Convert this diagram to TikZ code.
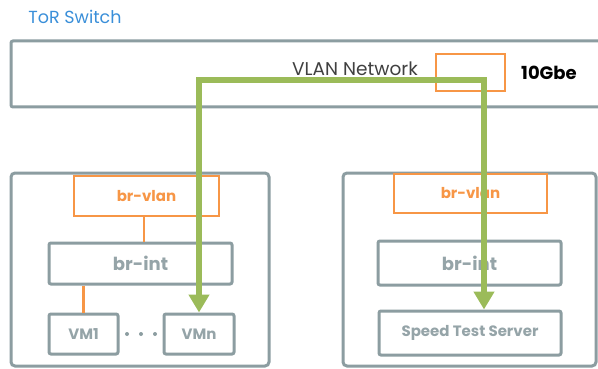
\documentclass[tikz,border=0pt]{standalone}
\usepackage{fontspec}
\setmainfont{Poppins}
\usetikzlibrary{arrows.meta}

\definecolor{boxgray}{HTML}{8C9DA1}
\definecolor{txtgray}{HTML}{95A4A8}
\definecolor{brorange}{HTML}{F79646}
\definecolor{flowgreen}{HTML}{9BBB59}
\definecolor{titleblue}{HTML}{3A8FD9}

\tikzset{
  graybox/.style={draw=boxgray, line width=3pt, rounded corners=2pt, fill=white,
    minimum width=#1, inner sep=0pt},
  orangebox/.style={draw=brorange, line width=2.7pt, fill=white,
    minimum width=#1, inner sep=0pt},
  orline/.style={draw=brorange, line width=2.7pt},
  flow/.style={draw=flowgreen, line width=6pt,
    {Triangle[width=20pt,length=18pt]}-{Triangle[width=20pt,length=18pt]}},
  boxlabel/.style={text=txtgray, font=\bfseries\fontsize{15}{17}\selectfont},
  dotmark/.style={fill=boxgray, draw=none, circle, minimum size=4pt, inner sep=0pt},
}

\begin{document}
\begin{tikzpicture}[x=1pt, y=-1pt]
  \useasboundingbox (0,0) rectangle (598,369);
  \clip (0,0) rectangle (598,369);

  % top-of-rack switch
  \node[text=titleblue, font=\fontsize{17.5}{20}\selectfont] (title) at (75,17) {ToR Switch};
  \node[graybox=599pt, minimum height=66pt, rounded corners=2pt] (tor) at (310.5,74) {};
  \node[font=\fontsize{18.5}{21}\selectfont, text=black!75] (vlan) at (355,69) {VLAN Network};
  \node[orangebox=69pt, minimum height=37pt] (port) at (470.5,72.5) {};
  \node[font=\bfseries\fontsize{18}{21}\selectfont] (speed) at (549,73) {10Gbe};

  % compute host
  \node[graybox=258pt, minimum height=193pt, rounded corners=4pt] (hostL) at (140,269.5) {};
  \node[orangebox=145pt, minimum height=40pt, text=brorange,
        font=\bfseries\fontsize{15}{17}\selectfont] (brvlanL) at (146.5,196) {br-vlan};
  \node[graybox=183pt, minimum height=41pt, text=txtgray,
        font=\bfseries\fontsize{18}{21}\selectfont] (brintL) at (140.5,263.5) {br-int};
  \node[graybox=69pt, minimum height=40pt, boxlabel] (vm1) at (83.5,334) {VM1};
  \node[graybox=70pt, minimum height=40pt, boxlabel] (vmn) at (199,334) {VMn};
  \node[dotmark] (d1) at (127,334) {};
  \node[dotmark] (d2) at (141,334) {};
  \node[dotmark] (d3) at (155,334) {};

  \coordinate (linkx) at (144,0);
  \draw[orline] (brvlanL.south -| linkx) -- (brintL.north -| linkx);
  \draw[orline] (brintL.south -| vm1.north) -- (vm1.north);

  % speed test host
  \node[graybox=253pt, minimum height=193pt, rounded corners=4pt] (hostR) at (469.5,269.5) {};
  \node[orangebox=153pt, minimum height=39pt, text=brorange,
        font=\bfseries\fontsize{15}{17}\selectfont] (brvlanR) at (470.5,193.5) {br-vlan};
  \node[graybox=183pt, minimum height=44pt, text=txtgray,
        font=\bfseries\fontsize{18}{21}\selectfont] (brintR) at (469.5,263) {br-int};
  \node[graybox=182pt, minimum height=44pt, text=txtgray,
        font=\bfseries\fontsize{15}{17}\selectfont] (server) at (470,333) {Speed Test Server};

  % traffic path through the VLAN network
  \coordinate (turnL) at (199,80);
  \coordinate (turnR) at (484,80);
  \draw[flow] (vmn.north) -- (turnL) -- (turnR) -- (turnR |- server.north);
\end{tikzpicture}
\end{document}
